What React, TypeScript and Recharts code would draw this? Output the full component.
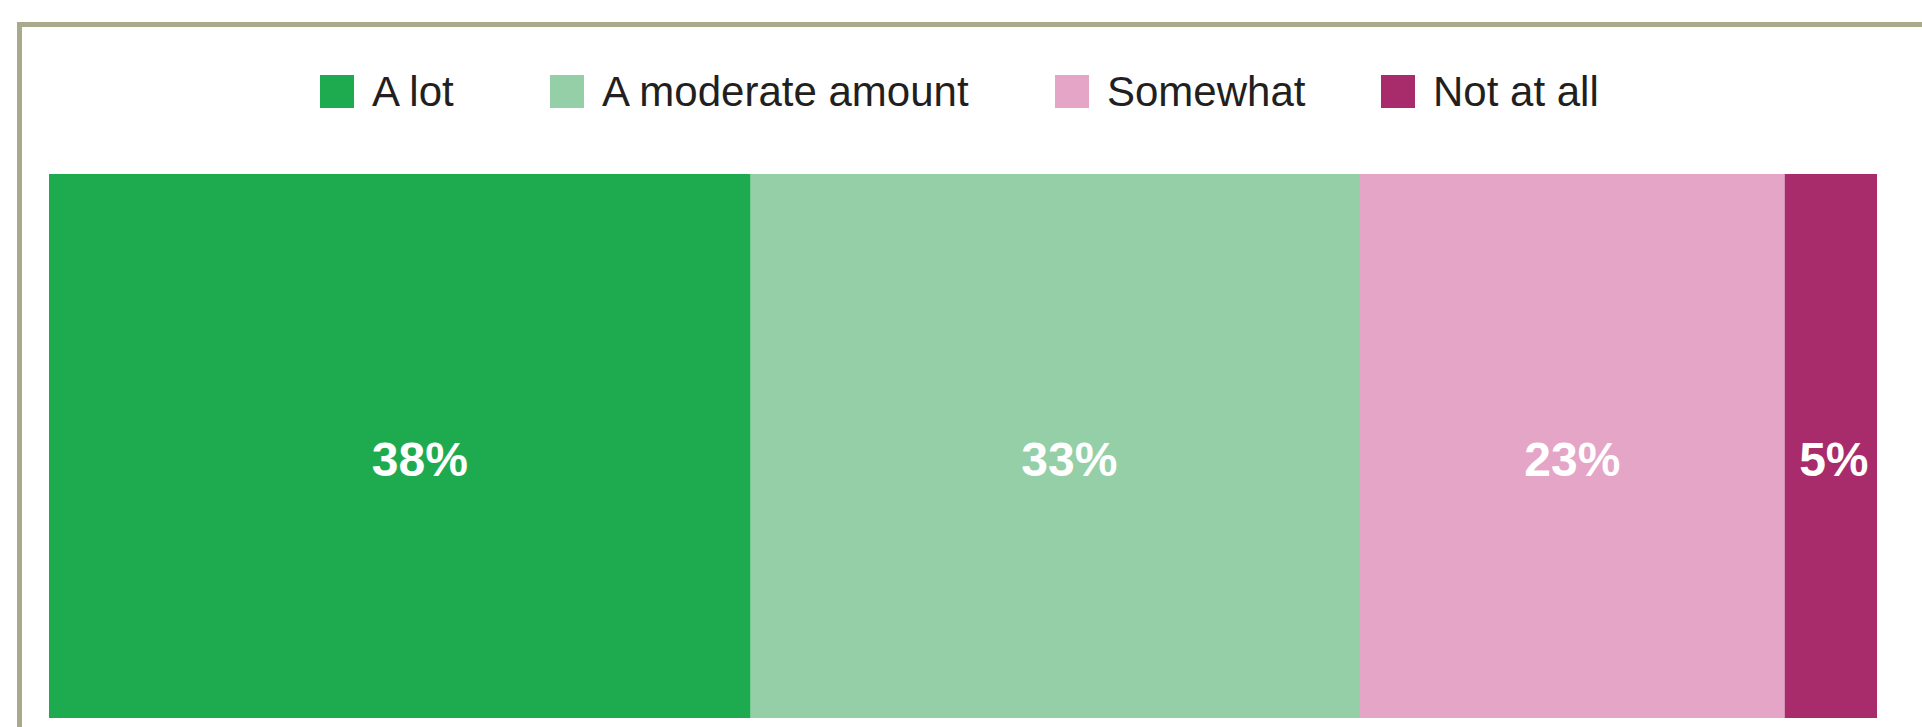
import React from 'react';
import { BarChart, Bar, XAxis, YAxis, Legend, LabelList } from 'recharts';

const categories = ['All respondents'];
const seriesNames = ['A lot', 'A moderate amount', 'Somewhat', 'Not at all'];
const seriesKeys = ['alot', 'moderate', 'somewhat', 'notatall'];
const aLot = [38];
const moderate = [33];
const somewhat = [23];
const notAtAll = [5];

const seriesColors = ['#1eab4f', '#94cfa7', '#e4a5c6', '#a82c6b'];
const legendLefts = [320, 550, 1055, 1381];
const labelShift = [20, 14, 0, 3];

const data = categories.map((c, i) => ({
  name: c,
  alot: aLot[i],
  moderate: moderate[i],
  somewhat: somewhat[i],
  notatall: notAtAll[i],
}));

const FONT = '"Liberation Sans", Arial, Helvetica, sans-serif';

const renderLegend = () => {
  return (
    <div style={{ position: 'relative', width: 1922, height: 40 }}>
      {seriesNames.map((name, i) => (
        <div
          key={name}
          style={{
            position: 'absolute',
            left: legendLefts[i],
            top: 0,
            display: 'flex',
            alignItems: 'flex-start',
            whiteSpace: 'nowrap',
          }}
        >
          <div style={{ width: 34, height: 33, background: seriesColors[i], marginRight: 18 }} />
          <span
            style={{
              fontFamily: FONT,
              fontSize: 42,
              lineHeight: '33px',
              color: '#231f20',
            }}
          >
            {name}
          </span>
        </div>
      ))}
    </div>
  );
};

const makeLabel = (idx: number) => (props: any) => {
  const { x, y, width, height, value } = props;
  return (
    <text
      x={x + width / 2 + labelShift[idx]}
      y={y + height / 2 + 30}
      textAnchor="middle"
      fill="#ffffff"
      fontFamily={FONT}
      fontWeight="bold"
      fontSize={48}
    >
      {`${value}%`}
    </text>
  );
};

export default function App() {
  return (
    <div
      style={{
        position: 'absolute',
        top: 0,
        left: 0,
        width: 1922,
        height: 727,
        overflow: 'hidden',
        background: '#ffffff',
      }}
    >
      <div
        style={{
          position: 'absolute',
          top: 22,
          left: 17,
          width: 2000,
          height: 800,
          borderTop: '5px solid #a9a98c',
          borderLeft: '5px solid #a9a98c',
          boxSizing: 'border-box',
        }}
      />
      <div style={{ position: 'absolute', top: 0, left: 0 }}>
        <BarChart
          width={1922}
          height={727}
          data={data}
          layout="vertical"
          margin={{ top: 174, right: 45, bottom: 9, left: 49 }}
          barCategoryGap={0}
        >
          <XAxis type="number" hide domain={[0, 'dataMax']} />
          <YAxis type="category" dataKey="name" hide />
          <Legend
            layout="horizontal"
            verticalAlign="middle"
            align="center"
            content={renderLegend}
            wrapperStyle={{ top: 75, left: 0, width: 1922 }}
          />
          {seriesKeys.map((k, i) => (
            <Bar
              key={k}
              dataKey={k}
              name={seriesNames[i]}
              stackId="a"
              fill={seriesColors[i]}
              isAnimationActive={false}
            >
              <LabelList dataKey={k} content={makeLabel(i)} />
            </Bar>
          ))}
        </BarChart>
      </div>
    </div>
  );
}
